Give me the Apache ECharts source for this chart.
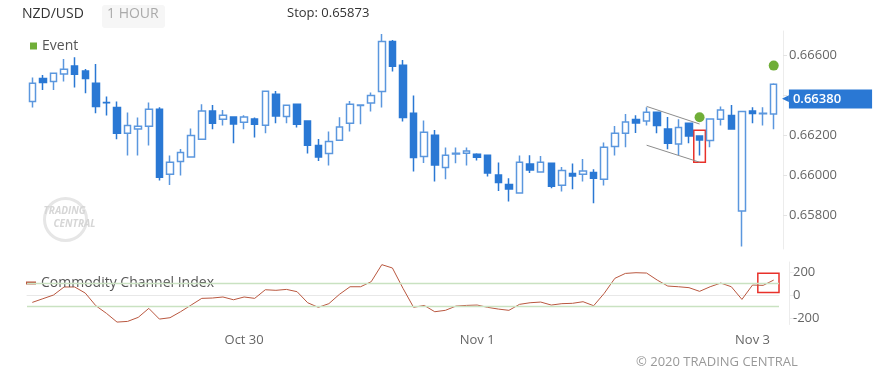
<!DOCTYPE html>
<html>
<head>
<meta charset="utf-8">
<script src="https://cdn.jsdelivr.net/npm/echarts@6/dist/echarts.min.js"></script>
<style>html,body{margin:0;padding:0;background:#fff}#c{width:885px;height:386px}</style>
</head>
<body>
<div id="c"></div>
<script>
// ---- data ----
// candles: [open, close, low, high]
var candles = [
[0.66367,0.66459,0.66337,0.66487],[0.66482,0.66462,0.66425,0.66500],[0.66467,0.66509,0.66425,0.66510],
[0.66505,0.66529,0.66467,0.66580],[0.66545,0.66504,0.66437,0.66589],[0.66520,0.66482,0.66409,0.66530],
[0.66459,0.66342,0.66309,0.66555],[0.66362,0.66361,0.66297,0.66392],[0.66337,0.66209,0.66179,0.66367],
[0.66209,0.66247,0.66097,0.66312],[0.66230,0.66244,0.66097,0.66287],[0.66244,0.66329,0.66147,0.66362],
[0.66329,0.65989,0.65972,0.66339],[0.66004,0.66064,0.65950,0.66097],[0.66067,0.66112,0.65997,0.66130],
[0.66090,0.66197,0.66089,0.66232],[0.66179,0.66320,0.66175,0.66354],[0.66320,0.66259,0.66229,0.66350],
[0.66279,0.66299,0.66247,0.66325],[0.66290,0.66255,0.66159,0.66293],[0.66264,0.66290,0.66229,0.66299],
[0.66280,0.66254,0.66187,0.66287],[0.66249,0.66419,0.66209,0.66422],[0.66404,0.66295,0.66259,0.66420],
[0.66292,0.66349,0.66259,0.66350],[0.66354,0.66254,0.66237,0.66356],[0.66270,0.66149,0.66107,0.66272],
[0.66147,0.66090,0.66070,0.66180],[0.66107,0.66167,0.66047,0.66217],[0.66174,0.66240,0.66172,0.66289],
[0.66259,0.66354,0.66217,0.66370],[0.66347,0.66350,0.66254,0.66352],[0.66360,0.66397,0.66317,0.66412],
[0.66417,0.66667,0.66337,0.66705],[0.66667,0.66544,0.66517,0.66675],[0.66549,0.66287,0.66267,0.66575],
[0.66309,0.66087,0.66017,0.66397],[0.66092,0.66214,0.66060,0.66272],[0.66199,0.66050,0.65967,0.66225],
[0.66037,0.66099,0.65979,0.66137],[0.66105,0.66109,0.66059,0.66137],[0.66109,0.66120,0.66047,0.66137],
[0.66104,0.66089,0.66072,0.66109],[0.66099,0.66010,0.65992,0.66100],[0.66000,0.65962,0.65920,0.66062],
[0.65952,0.65930,0.65867,0.65984],[0.65910,0.66064,0.65908,0.66097],[0.66055,0.66025,0.66010,0.66099],
[0.66015,0.66064,0.66012,0.66095],[0.66059,0.65944,0.65934,0.66060],[0.65949,0.66022,0.65917,0.66040],
[0.66007,0.65995,0.65929,0.66057],[0.66004,0.66020,0.65967,0.66080],[0.66012,0.65984,0.65859,0.66029],
[0.65979,0.66139,0.65947,0.66162],[0.66142,0.66209,0.66097,0.66245],[0.66209,0.66265,0.66139,0.66305],
[0.66277,0.66260,0.66210,0.66299],[0.66270,0.66314,0.66247,0.66339],[0.66314,0.66247,0.66209,0.66315],
[0.66230,0.66159,0.66129,0.66290],[0.66155,0.66237,0.66100,0.66279],[0.66259,0.66195,0.66159,0.66260],
[0.66195,0.66175,0.66097,0.66197],[0.66172,0.66280,0.66139,0.66282],[0.66279,0.66325,0.66247,0.66342],
[0.66297,0.66230,0.66229,0.66350],[0.65820,0.66317,0.65642,0.66318],[0.66320,0.66307,0.66259,0.66339],
[0.66306,0.66309,0.66247,0.66339],[0.66305,0.66454,0.66229,0.66459]
];
var cci = [-64,-32,0,70,70,17,-93,-159,-235,-229,-194,-116,-209,-197,-145,-87,-29,-26,-17,-41,
-17,-29,46,41,49,29,-67,-107,-75,6,72,72,116,264,235,58,-107,-90,-145,-133,
-96,-90,-87,-107,-122,-133,-81,-67,-61,-87,-75,-72,-58,-93,15,145,188,194,191,130,
78,72,64,32,72,104,72,-38,87,84,130];
var categories = candles.map(function (d, i) { return String(i); });
var tickIndex = [20, 42, 68];
var tickText = ['Oct 30', 'Nov 1', 'Nov 3'];
var events = [[63, 0.66289], [70, 0.66547]];
var channelUpper = [[58, 0.66343], [63, 0.66255]];
var channelLower = [[58, 0.66149], [63, 0.66064]];
var priceBox = [[63, 0.66224, 0.66064]];
var cciBox = [[69, 70, 23, 189]];
var lastPrice = 0.66380;
var stopPrice = '0.65873';
var priceTicks = [0.658, 0.660, 0.662, 0.664, 0.666];
var priceLabels = [0.658, 0.660, 0.662, 0.666];
var cciTicks = [-200, 0, 200];
var cciLevels = [100, -100];

var FONT = '"Open Sans", sans-serif';
var BLUE = '#2a78d4', HOLLOW = '#5b97de', GREEN = '#4c9a06', CCI = '#b9573f';

var chart = echarts.init(document.getElementById('c'));
function isTick(i) { return tickIndex.indexOf(i) >= 0; }

var option = {
  animation: false,
  textStyle: { fontFamily: FONT },
  grid: [
    { left: 27, right: 106, top: 31, bottom: 137 },
    { left: 27, right: 106, top: 262, bottom: 61.5 }
  ],
  legend: [
    { data: [{ name: 'Event', icon: 'rect' }], left: 30, top: 39, padding: 0, itemWidth: 7, itemHeight: 7,
      selectedMode: false, textStyle: { color: '#555', fontSize: 14, fontFamily: FONT } },
    { data: [{ name: 'Commodity Channel Index', icon: 'rect' }], left: 26, top: 276, padding: 0, itemWidth: 10, itemHeight: 3,
      selectedMode: false, textStyle: { color: '#555', fontSize: 14, fontFamily: FONT } }
  ],
  xAxis: [
    { type: 'category', gridIndex: 0, data: categories, show: false, boundaryGap: true },
    { type: 'category', gridIndex: 1, data: categories, boundaryGap: true,
      axisLine: { lineStyle: { color: '#e8e8e8' } },
      axisTick: { alignWithLabel: true, interval: function (i) { return isTick(i); }, length: 6, lineStyle: { color: '#e8e8e8' } },
      axisLabel: { interval: function (i) { return isTick(i); }, formatter: function (v, i) { return tickText[tickIndex.indexOf(i)] || ''; },
        color: '#666', fontSize: 13, margin: 9, fontFamily: FONT } }
  ],
  yAxis: [
    { type: 'value', gridIndex: 0, position: 'right', offset: 4, min: 0.6563, max: 0.6672, scale: true,
      splitLine: { show: false },
      axisLine: { show: true, lineStyle: { color: '#ececec' } },
      axisTick: { show: true, length: 4, customValues: priceTicks, lineStyle: { color: '#e4e4e4' } },
      axisLabel: { customValues: priceLabels, formatter: function (v) { return v.toFixed(5); }, color: '#666', fontSize: 13, margin: 6, fontFamily: FONT } },
    { type: 'value', gridIndex: 1, position: 'right', offset: 10, min: -256, max: 287,
      splitLine: { show: false },
      axisLine: { show: true, lineStyle: { color: '#ececec' } },
      axisTick: { show: true, length: 5, customValues: cciTicks, lineStyle: { color: '#ececec' } },
      axisLabel: { customValues: cciTicks, color: '#666', fontSize: 13, margin: 4, fontFamily: FONT } }
  ],
  series: [
    { name: 'Price', type: 'candlestick', xAxisIndex: 0, yAxisIndex: 0, data: candles, barWidth: 7,
      itemStyle: { color: '#ffffff', color0: BLUE, borderColor: HOLLOW, borderColor0: BLUE, borderWidth: 1.5 },
      markLine: {
        silent: true, symbol: ['none', 'none'], animation: false, precision: 6,
        data: [
          [{ coord: [categories[channelUpper[0][0]], channelUpper[0][1]] }, { coord: [categories[channelUpper[1][0]], channelUpper[1][1]] }],
          [{ coord: [categories[channelLower[0][0]], channelLower[0][1]] }, { coord: [categories[channelLower[1][0]], channelLower[1][1]] }],
          { yAxis: lastPrice, lineStyle: { color: 'rgba(0,0,0,0)', width: 1 },
            label: { show: true, position: 'end', distance: 3,
              formatter: '{a|\u25C0}{b|' + lastPrice.toFixed(5) + '}',
              rich: { a: { color: BLUE, fontSize: 9, fontFamily: 'DejaVu Sans' },
                      b: { backgroundColor: BLUE, color: '#fff', fontSize: 13, fontWeight: 600, fontFamily: FONT,
                           lineHeight: 13, padding: [3, 31, 3, 4] } } } }
        ],
        lineStyle: { color: '#8c8c8c', width: 1, type: 'solid' },
        label: { show: false }
      }
    },
    { name: 'Event', type: 'scatter', xAxisIndex: 0, yAxisIndex: 0, data: events, symbolSize: 10,
      itemStyle: { color: GREEN } },
    { name: 'box1', type: 'custom', xAxisIndex: 0, yAxisIndex: 0, data: priceBox, silent: true,
      encode: { x: 0, y: [1, 2] },
      renderItem: function (params, api) {
        var a = api.coord([api.value(0), api.value(1)]);
        var b = api.coord([api.value(0), api.value(2)]);
        var w = api.size([1, 0])[0];
        return { type: 'rect', shape: { x: a[0] - w / 2 - 0.5, y: a[1], width: w + 1, height: b[1] - a[1] },
          style: { fill: 'none', stroke: '#e8312a', lineWidth: 1.5 } };
      } },
    { name: 'Commodity Channel Index', type: 'line', xAxisIndex: 1, yAxisIndex: 1, data: cci, symbol: 'none',
      lineStyle: { color: CCI, width: 1 }, itemStyle: { color: CCI },
      markLine: { silent: true, symbol: ['none', 'none'], label: { show: false },
        lineStyle: { color: '#c9e2c1', width: 1.3, type: 'solid' },
        data: cciLevels.map(function (v) { return { yAxis: v }; }) } },
    { name: 'box2', type: 'custom', xAxisIndex: 1, yAxisIndex: 1, data: cciBox, silent: true,
      encode: { x: [0, 1], y: [2, 3] },
      renderItem: function (params, api) {
        var a = api.coord([api.value(0), api.value(3)]);
        var b = api.coord([api.value(1), api.value(2)]);
        var w = api.size([1, 0])[0];
        return { type: 'rect', shape: { x: a[0] - w / 2, y: a[1], width: b[0] - a[0] + w, height: b[1] - a[1] },
          style: { fill: 'none', stroke: '#e8312a', lineWidth: 1.5 } };
      } }
  ],
  graphic: [
    { type: 'text', left: 22, top: 7, style: { text: 'NZD/USD', fill: '#333', fontSize: 14, fontFamily: FONT } },
    { type: 'rect', left: 102, top: 5, shape: { width: 63, height: 23, r: 3 }, style: { fill: '#f6f6f6' } },
    { type: 'text', left: 107, top: 7, style: { text: '1 HOUR', fill: '#aaa', fontSize: 14, fontFamily: FONT } },
    { type: 'text', left: 287, top: 7, style: { text: 'Stop: ' + stopPrice, fill: '#333', fontSize: 13, fontFamily: FONT } },
    { type: 'text', left: 636, top: 356, style: { text: '\u00A9 2020 TRADING CENTRAL', fill: '#999', fontSize: 13, fontFamily: FONT } },
    { type: 'group', left: 42, top: 196, children: [
      { type: 'circle', shape: { cx: 36, cy: 22, r: 21 }, style: { fill: 'none', stroke: '#e6e6e6', lineWidth: 3 } },
      { type: 'text', x: 14, y: 9, style: { text: 'TRADING', fill: '#d6d6d6', fontSize: 10, fontWeight: 'bold', fontStyle: 'italic', fontFamily: FONT } },
      { type: 'text', x: 24, y: 22, style: { text: 'CENTRAL', fill: '#d6d6d6', fontSize: 10, fontWeight: 'bold', fontStyle: 'italic', fontFamily: FONT } }
    ] }
  ]
};
chart.setOption(option);
</script>
</body>
</html>
